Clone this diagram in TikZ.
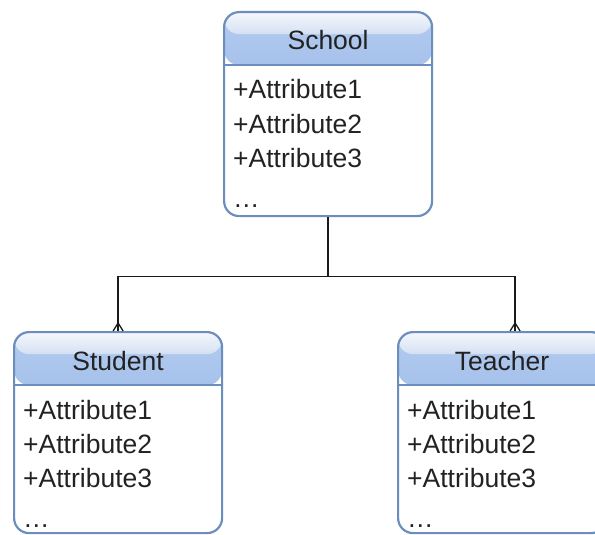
\documentclass[tikz,border=0pt]{standalone}
\usepackage{fontspec}
\setmainfont{Liberation Sans}
\usetikzlibrary{calc}
\definecolor{bordercol}{HTML}{6C8EBF}
\definecolor{hdrtop}{HTML}{B4CBEF}
\definecolor{hdrbot}{HTML}{7EA6E0}
\definecolor{glasstop}{HTML}{F6F8FC}
\definecolor{glassbot}{HTML}{D3E0F3}
\definecolor{txtcol}{HTML}{222222}
\definecolor{linecol}{HTML}{1A1A1A}
\tikzset{
  classbox/.style={draw=bordercol, line width=2.2pt, fill=white, rounded corners=15pt,
    anchor=north west, minimum width=208pt, minimum height=204pt, inner sep=0pt,
    path picture={
      \shade[top color=hdrtop, bottom color=hdrbot]
        (path picture bounding box.north west) rectangle
        ([yshift=-53pt]path picture bounding box.north east);
      \shade[top color=glasstop, bottom color=glassbot]
        (path picture bounding box.north west) rectangle
        ([yshift=-22pt]path picture bounding box.north east);
      \draw[bordercol, line width=1.6pt]
        ([yshift=-53pt]path picture bounding box.north west) --
        ([yshift=-53pt]path picture bounding box.north east);
    }},
  titletext/.style={text=txtcol, anchor=base, inner sep=0pt,
    font=\fontsize{26.5}{34}\selectfont},
  attrtext/.style={text=txtcol, anchor=base west, inner sep=0pt, align=left,
    font=\fontsize{26.5}{34}\selectfont},
  conn/.style={draw=linecol, line width=1.3pt},
}
\newcommand\umlclass[3]{%
  \node[titletext] (#1-title) at ([yshift=-39pt]#1.north) {#2};
  \node[attrtext] (#1-a1) at ([xshift=10pt,yshift=-88pt]#1.north west) {+Attribute1};
  \node[attrtext] (#1-a2) at ([xshift=10pt,yshift=-122pt]#1.north west) {+Attribute2};
  \node[attrtext] (#1-a3) at ([xshift=10pt,yshift=-156pt]#1.north west) {+Attribute3};
  \node[attrtext] (#1-dots) at ([xshift=10pt,yshift=-196pt]#1.north west) {…};
}
\newcommand\crowfoot[1]{%
  \draw[conn] ([yshift=8pt]#1) -- ++(-5,8) ([yshift=8pt]#1) -- ++(5,8);
}
\begin{document}
\begin{tikzpicture}[x=1pt,y=-1pt]
\useasboundingbox (0,0) rectangle (595,535);
\clip (0,0) rectangle (595,535);
\node[classbox] (school) at (223,11) {};
\node[classbox, minimum height=201pt] (student) at (13,331) {};
\node[classbox, minimum height=201pt] (teacher) at (397,331) {};
\umlclass{school}{School}{}
\umlclass{student}{Student}{}
\umlclass{teacher}{Teacher}{}
\coordinate (tin) at ([xshift=13pt]teacher.north);
\draw[conn] (school.south) -- ++(0,59) -| (student.north);
\draw[conn] (school.south) -- ++(0,59) -| (tin);
\crowfoot{student.north}
\crowfoot{tin}
\end{tikzpicture}
\end{document}
